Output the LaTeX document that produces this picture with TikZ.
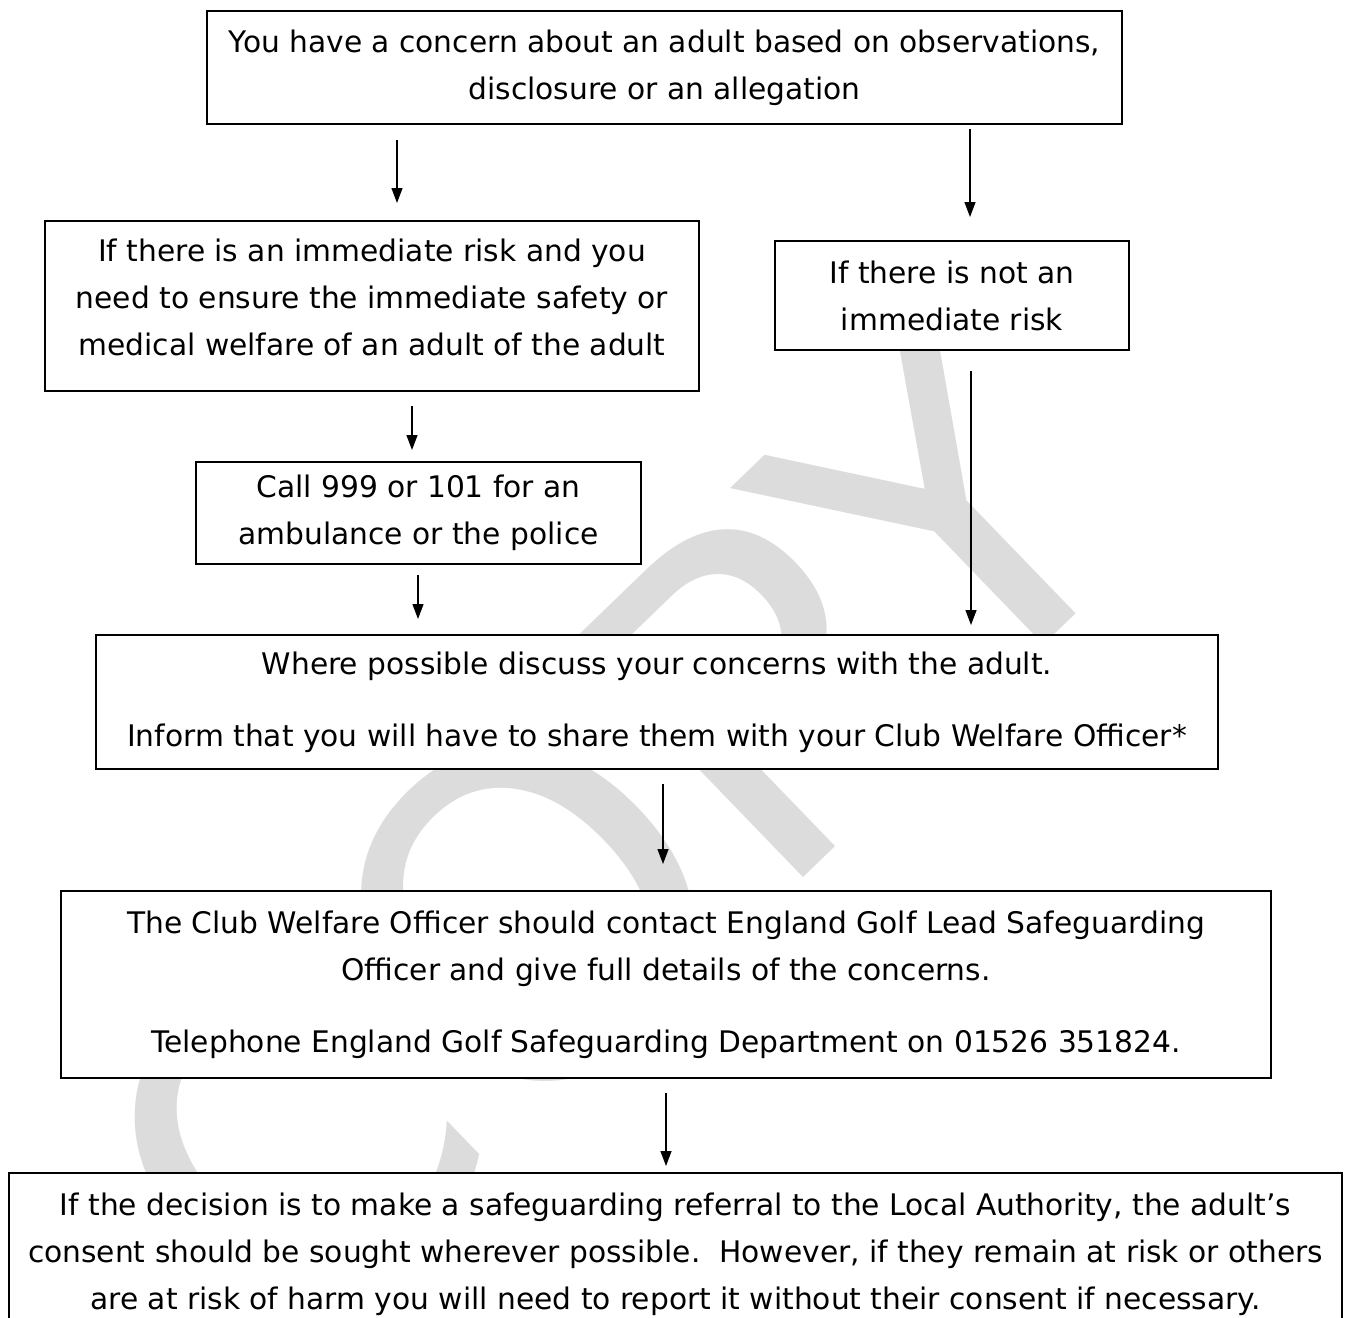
\documentclass[tikz,border=0pt]{standalone}
\usepackage{fontspec}
\setmainfont{DejaVu Sans}
\usetikzlibrary{arrows.meta,positioning}
\definecolor{markgray}{HTML}{DCDCDC}
\tikzset{
    every node/.style={font=\fontsize{29.7}{47}\selectfont},
    flow box/.style={draw=black,line width=2pt,fill=white,align=center,inner sep=0pt},
    watermark/.style={text=markgray,font=\fontsize{453}{453}\selectfont,inner sep=0pt}
}

\begin{document}
\begin{tikzpicture}[
            x = 1pt, y = -1pt, % one unit per pixel, y going down
            > = {Triangle[length=15pt,width=11pt]}, % filled arrow head
            line width = 1.3pt
        ]

        \useasboundingbox (0,0) rectangle (1349,1317);

        % faint stamp behind the boxes
        \node[watermark, rotate=44, anchor=base east] (copymark) at (1160,533) {COPY};

        \node[flow box, minimum width=915pt, minimum height=113pt] (concern) at (664.5,67.5)
            {You have a concern about an adult based on observations,\\ disclosure or an allegation};
        \node[flow box, minimum width=654pt, minimum height=170pt, text depth=18pt] (immediate) at (372,306)
            {If there is an immediate risk and you\\ need to ensure the immediate safety or\\ medical welfare of an adult of the adult};
        \node[flow box, minimum width=354pt, minimum height=109pt] (notrisk) at (952,295.5)
            {If there is not an\\ immediate risk};
        \node[flow box, minimum width=445pt, minimum height=102pt] (call) at (418.5,513)
            {Call 999 or 101 for an\\ ambulance or the police};
        \node[flow box, minimum width=1122pt, minimum height=134pt] (discuss) at (657,702)
            {Where possible discuss your concerns with the adult.\\[25pt] Inform that you will have to share them with your Club Welfare Officer*};
        \node[flow box, minimum width=1210pt, minimum height=187pt] (cwo) at (666,984.5)
            {The Club Welfare Officer should contact England Golf Lead Safeguarding\\ Officer and give full details of the concerns.\\[25pt] Telephone England Golf Safeguarding Department on 01526 351824.};
        \node[flow box, minimum width=1333pt, minimum height=162pt] (referral) at (675.5,1254)
            {If the decision is to make a safeguarding referral to the Local Authority, the adult’s\\ consent should be sought wherever possible.\ \ However, if they remain at risk or others\\ are at risk of harm you will need to report it without their consent if necessary.};

        \draw[->, shorten <=15pt, shorten >=17pt] (concern.south -| 397,0) -- (immediate.north -| 397,0);
        \draw[->, shorten <=4pt, shorten >=23pt] (concern.south -| 970,0) -- (notrisk.north -| 970,0);
        \draw[->, shorten <=14pt, shorten >=11pt] (immediate.south -| 412,0) -- (call.north -| 412,0);
        \draw[->, shorten <=10pt, shorten >=15pt] (call.south -| 418,0) -- (discuss.north -| 418,0);
        \draw[->, shorten <=20pt, shorten >=9pt] (notrisk.south -| 971,0) -- (discuss.north -| 971,0);
        \draw[->, shorten <=14pt, shorten >=26pt] (discuss.south -| 663,0) -- (cwo.north -| 663,0);
        \draw[->, shorten <=14pt, shorten >=6pt] (cwo.south -| 666,0) -- (referral.north -| 666,0);

  \end{tikzpicture}
\end{document}
